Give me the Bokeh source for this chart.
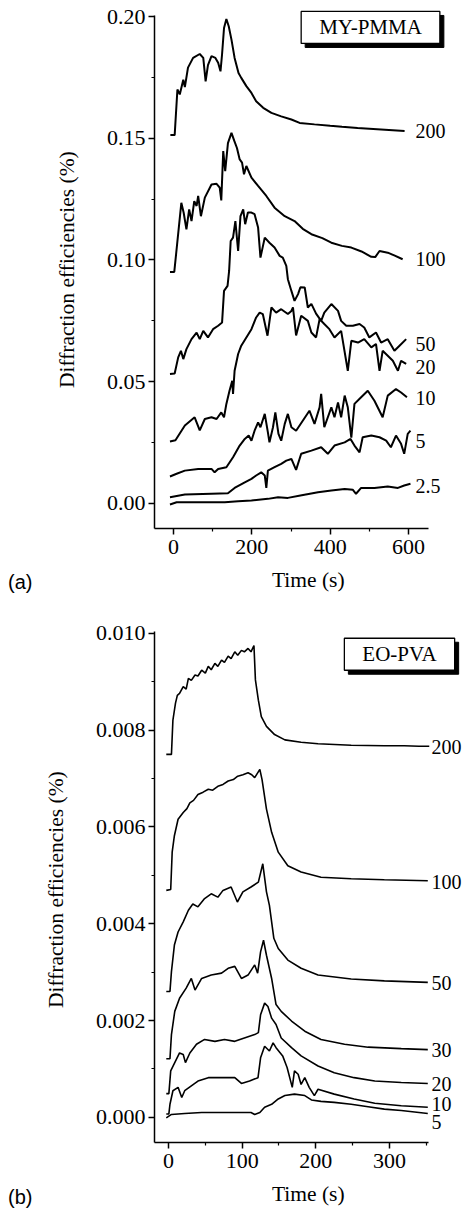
from bokeh.plotting import figure
from bokeh.models import Label, FixedTicker, NumeralTickFormatter, Range1d, Div
from bokeh.layouts import column, row
from bokeh.embed import file_html
from bokeh.resources import INLINE

# ---------------- Panel (a): MY-PMMA ----------------
a_t_200 = [-8, 3, 10, 16, 25, 29, 37, 50, 67, 76, 82, 88, 97, 107, 114, 120, 124, 129, 135, 141, 148, 156, 166, 173, 186, 199, 211, 229, 250, 275, 301, 322, 360, 400, 430, 470, 510, 550, 590]
a_v_200 = [0.1513, 0.1513, 0.170, 0.168, 0.174, 0.171, 0.179, 0.183, 0.1846, 0.183, 0.1734, 0.180, 0.1837, 0.183, 0.181, 0.1775, 0.1845, 0.1953, 0.199, 0.196, 0.1905, 0.183, 0.1768, 0.1748, 0.1714, 0.1686, 0.1652, 0.1625, 0.1604, 0.159, 0.1577, 0.1563, 0.1557, 0.1551, 0.1547, 0.1542, 0.1538, 0.1534, 0.1530]

a_t_100 = [-9, 2, 20, 26, 33, 40, 46, 53, 59, 63, 70, 80, 97, 110, 118, 122, 127, 132, 139, 148, 155, 162, 169, 175, 180, 186, 199, 216, 237, 258, 284, 309, 330, 352, 380, 403, 430, 454, 480, 505, 515, 526, 547, 565, 585]
a_v_100 = [0.0951, 0.0951, 0.1235, 0.1194, 0.1126, 0.1208, 0.116, 0.1242, 0.1222, 0.1263, 0.118, 0.1256, 0.131, 0.1313, 0.1297, 0.1245, 0.1447, 0.1365, 0.148, 0.1522, 0.149, 0.146, 0.1413, 0.140, 0.1352, 0.1386, 0.1338, 0.1304, 0.1263, 0.1215, 0.118, 0.116, 0.1128, 0.1106, 0.109, 0.1071, 0.1058, 0.1051, 0.1035, 0.1013, 0.1012, 0.1037, 0.103, 0.1018, 0.1003]

a_t_50 = [-9, 3, 12, 19, 25, 33, 46, 59, 67, 76, 88, 101, 114, 124, 129, 138, 142, 146, 152, 158, 165, 171, 178, 183, 190, 199, 207, 216, 222, 233, 245, 258, 271, 279, 288, 292, 301, 309, 318, 324, 335, 343, 352, 364, 377, 385, 403, 420, 428, 441, 458, 475, 487, 500, 517, 530, 547, 564, 577, 594]
a_v_50 = [0.0532, 0.0534, 0.060, 0.0627, 0.0593, 0.0634, 0.0675, 0.0702, 0.0675, 0.0709, 0.0682, 0.0716, 0.073, 0.0743, 0.0873, 0.0894, 0.0955, 0.1078, 0.1092, 0.116, 0.1037, 0.118, 0.1208, 0.1147, 0.1195, 0.1195, 0.1188, 0.1133, 0.101, 0.1092, 0.1071, 0.1051, 0.1017, 0.101, 0.0976, 0.0921, 0.0873, 0.0832, 0.086, 0.0888, 0.0887, 0.0805, 0.082, 0.078, 0.075, 0.0784, 0.0819, 0.0791, 0.075, 0.073, 0.073, 0.0737, 0.0723, 0.0682, 0.0702, 0.0661, 0.0675, 0.0627, 0.0648, 0.0675]

a_t_20 = [-9, 5, 29, 54, 67, 80, 97, 110, 122, 129, 135, 143, 150, 152, 156, 165, 173, 186, 199, 211, 220, 228, 240, 250, 262, 275, 292, 301, 305, 313, 326, 343, 352, 364, 373, 385, 398, 411, 428, 445, 454, 471, 487, 505, 517, 526, 534, 547, 560, 573, 581, 594]
a_v_20 = [0.0255, 0.026, 0.032, 0.0354, 0.030, 0.0347, 0.0354, 0.0347, 0.0374, 0.0354, 0.0409, 0.0463, 0.0504, 0.045, 0.0545, 0.0614, 0.0648, 0.0682, 0.0716, 0.0764, 0.0784, 0.0778, 0.0689, 0.0805, 0.0784, 0.0798, 0.0778, 0.0791, 0.0805, 0.0690, 0.0771, 0.075, 0.0702, 0.0682, 0.0757, 0.0737, 0.0716, 0.0682, 0.0709, 0.0545, 0.0668, 0.0661, 0.0675, 0.0641, 0.0655, 0.0545, 0.0627, 0.0607, 0.0586, 0.0545, 0.0586, 0.0573]

a_t_10 = [-9, 8, 29, 63, 97, 105, 114, 135, 152, 169, 182, 192, 199, 207, 216, 222, 233, 241, 245, 254, 260, 268, 275, 284, 292, 301, 313, 330, 347, 360, 373, 377, 385, 403, 411, 420, 428, 437, 445, 454, 462, 479, 496, 513, 534, 547, 568, 581, 596]
a_v_10 = [0.0111, 0.0122, 0.0135, 0.0142, 0.0142, 0.0128, 0.0142, 0.0149, 0.019, 0.0238, 0.0265, 0.0279, 0.0258, 0.0299, 0.0333, 0.0313, 0.0368, 0.0292, 0.0251, 0.0313, 0.0374, 0.0286, 0.0258, 0.0327, 0.0368, 0.0313, 0.0299, 0.034, 0.0381, 0.0327, 0.0395, 0.045, 0.0313, 0.0395, 0.0354, 0.0415, 0.0354, 0.0443, 0.0395, 0.027, 0.0409, 0.0436, 0.0463, 0.0422, 0.0354, 0.0443, 0.047, 0.0456, 0.0436]

a_t_5 = [-9, 29, 97, 139, 156, 182, 199, 211, 224, 233, 237, 241, 258, 275, 288, 301, 313, 326, 352, 377, 394, 411, 437, 452, 462, 475, 483, 505, 526, 543, 555, 568, 581, 589, 598, 605]
a_v_5 = [0.0026, 0.0037, 0.004, 0.0042, 0.0064, 0.0087, 0.0101, 0.0115, 0.0128, 0.0115, 0.0064, 0.0135, 0.0149, 0.0163, 0.0176, 0.0183, 0.0138, 0.0204, 0.0217, 0.0231, 0.0204, 0.0238, 0.0251, 0.0265, 0.0238, 0.021, 0.0272, 0.0279, 0.0272, 0.0258, 0.0231, 0.0279, 0.0245, 0.0204, 0.0286, 0.0299]

a_t_25 = [-9, 8, 71, 131, 165, 199, 241, 267, 292, 324, 369, 403, 437, 458, 466, 479, 513, 547, 573, 589, 605]
a_v_25 = [-0.0004, 0.0005, 0.0005, 0.0005, 0.0009, 0.0012, 0.0019, 0.0026, 0.0023, 0.0033, 0.0046, 0.0053, 0.006, 0.0056, 0.004, 0.0064, 0.0064, 0.007, 0.0064, 0.0074, 0.0081]

a_names = ["200", "100", "50", "20", "10", "5", "2.5"]
a_label_y = [0.1529, 0.1005, 0.0656, 0.0562, 0.0435, 0.0258, 0.0070]
a_xticks = [0, 200, 400, 600]
a_xminor = [100, 300, 500]
a_yticks = [0.00, 0.05, 0.10, 0.15, 0.20]
a_yminor = [0.025, 0.075, 0.125, 0.175]

# ---------------- Panel (b): EO-PVA ----------------
b_t_200 = [-3, 4, 6, 9.5, 12, 15, 20, 24, 27, 31, 36, 40, 45, 50, 54, 58, 63, 67, 72, 76, 81, 85, 90, 94, 99, 103, 108, 112, 116, 118, 122, 126, 133, 144, 158, 180, 203, 248, 293, 320, 340, 354]
b_v_200 = [0.0075, 0.0075, 0.00821, 0.00856, 0.00872, 0.00876, 0.0089, 0.00885, 0.00907, 0.00903, 0.00914, 0.00912, 0.00924, 0.00918, 0.00932, 0.00925, 0.00938, 0.00932, 0.00945, 0.0094, 0.00953, 0.00948, 0.00962, 0.00955, 0.00965, 0.00962, 0.00969, 0.00962, 0.00975, 0.00904, 0.00862, 0.00828, 0.00808, 0.00791, 0.0078, 0.00775, 0.00772, 0.00769, 0.00768, 0.00768, 0.00767, 0.00767]

b_t_100 = [-3, 3, 5, 8, 13, 20, 25, 29, 34, 40, 47, 54, 60, 67, 74, 81, 88, 94, 101, 108, 113, 117, 124, 127, 133, 140, 149, 162, 180, 207, 248, 293, 352]
b_v_100 = [0.00469, 0.00471, 0.00548, 0.00582, 0.00616, 0.0063, 0.00638, 0.0065, 0.00655, 0.00667, 0.00672, 0.00678, 0.00676, 0.00684, 0.00688, 0.00695, 0.00698, 0.00705, 0.00708, 0.00712, 0.00708, 0.00702, 0.00719, 0.00698, 0.00637, 0.00589, 0.00548, 0.0052, 0.00507, 0.00496, 0.00493, 0.00491, 0.00489]

b_t_50 = [-3, 2, 4, 8, 13, 20, 27, 33, 40, 49, 58, 67, 74, 85, 93.5, 101, 112, 122, 128, 133, 137, 143, 149, 162, 180, 203, 248, 293, 352]
b_v_50 = [0.0026, 0.0026, 0.00301, 0.00356, 0.00383, 0.00404, 0.00428, 0.00441, 0.00435, 0.00452, 0.00462, 0.00455, 0.00469, 0.00476, 0.00445, 0.00466, 0.00476, 0.00486, 0.00524, 0.00466, 0.00438, 0.0037, 0.00349, 0.00325, 0.00308, 0.00294, 0.00286, 0.00282, 0.00279]

b_t_30 = [-3, 2, 4, 8.5, 15, 24, 31, 36, 45, 58, 72, 81, 90, 99, 108, 117, 121, 125, 129, 133, 140, 146, 153, 167, 185, 207, 239, 271, 316, 352]
b_v_30 = [0.00121, 0.00121, 0.00171, 0.00219, 0.00246, 0.00267, 0.00287, 0.00263, 0.00287, 0.00294, 0.00298, 0.00308, 0.00312, 0.00287, 0.00294, 0.00315, 0.00298, 0.00342, 0.00366, 0.00335, 0.00287, 0.00233, 0.00219, 0.00199, 0.00178, 0.00161, 0.00151, 0.00145, 0.00142, 0.0014]

b_t_20 = [-3, 0.5, 3, 8.5, 15, 20, 23, 29, 38, 49, 63, 76, 90, 103, 117, 122, 125, 130.5, 135, 140, 146, 153, 167, 180, 203, 225, 252, 280, 316, 352]
b_v_20 = [0.00049, 0.00049, 0.00096, 0.00113, 0.00133, 0.0013, 0.00113, 0.00133, 0.00151, 0.00161, 0.00157, 0.00161, 0.00157, 0.00164, 0.00171, 0.00175, 0.00212, 0.00236, 0.00229, 0.00205, 0.00192, 0.00164, 0.00144, 0.00127, 0.00106, 0.00092, 0.00082, 0.00075, 0.00072, 0.0007]

b_t_10 = [-3, 0.5, 2, 6, 13, 18, 22, 31, 40, 54, 72, 90, 99, 110, 121.5, 125, 130.5, 137, 142, 146, 155, 161, 168, 171, 176, 180, 185, 191, 198, 203, 225, 252, 280, 316, 352]
b_v_10 = [0.00007, 0.00007, 0.00027, 0.00055, 0.00062, 0.00041, 0.00055, 0.00065, 0.00075, 0.00082, 0.00082, 0.00082, 0.0007, 0.00075, 0.00082, 0.00123, 0.00147, 0.00137, 0.00154, 0.00144, 0.00127, 0.00103, 0.00062, 0.00096, 0.00089, 0.00068, 0.00082, 0.00062, 0.00045, 0.00058, 0.00048, 0.00038, 0.00029, 0.00024, 0.00021]

b_t_5 = [-3, 4, 22, 45, 67, 90, 112, 117, 124, 130.5, 140, 149, 158, 171, 185, 194, 207, 225, 248, 271, 293, 316, 352]
b_v_5 = [-0.00001, 0.00006, 0.00008, 0.0001, 0.0001, 0.0001, 0.0001, 0.00006, 0.0001, 0.00021, 0.00027, 0.00038, 0.00045, 0.00048, 0.00045, 0.00036, 0.00033, 0.00031, 0.00027, 0.00022, 0.00017, 0.00014, 0.00008]

b_names = ["200", "100", "50", "30", "20", "10", "5"]
b_label_y = [0.00766, 0.00487, 0.00277, 0.00140, 0.00068, 0.00027, -0.00010]
b_xticks = [0, 100, 200, 300]
b_xminor = [50, 150, 250, 350]
b_yticks = [0.000, 0.002, 0.004, 0.006, 0.008, 0.010]
b_yminor = [0.001, 0.003, 0.005, 0.007, 0.009]

panel_tags = ["(a)", "(b)"]

SERIF = "Liberation Serif"
SANS = "Liberation Sans"
SIDE_W = 40


def make_panel(xr, yr, xb, yb, frame_h, top, bottom, xt, xm, yt, ym, yfmt):
    p = figure(frame_width=313, frame_height=frame_h,
               x_range=Range1d(*xr), y_range=Range1d(*yr),
               output_backend="svg", toolbar_location=None,
               min_border_left=153 - SIDE_W, min_border_right=0,
               min_border_top=top, min_border_bottom=bottom)
    p.outline_line_color = None
    p.xgrid.visible = False
    p.ygrid.visible = False
    p.xaxis.ticker = FixedTicker(ticks=xt, minor_ticks=xm)
    p.yaxis.ticker = FixedTicker(ticks=yt, minor_ticks=ym)
    p.yaxis.formatter = NumeralTickFormatter(format=yfmt)
    p.xaxis.bounds = xb
    p.yaxis.bounds = yb
    for ax in (p.xaxis, p.yaxis):
        ax.axis_line_width = 1.5
        ax.axis_line_color = "black"
        ax.major_tick_line_width = 1.5
        ax.minor_tick_line_width = 1.2
        ax.major_tick_line_color = "black"
        ax.minor_tick_line_color = "black"
        ax.major_tick_in = 0
        ax.major_tick_out = 6
        ax.minor_tick_in = 0
        ax.minor_tick_out = 3
        ax.major_label_text_font = SERIF
        ax.major_label_text_font_size = "22px"
        ax.major_label_text_color = "black"
        ax.axis_label_text_font = SERIF
        ax.axis_label_text_font_size = "21.5px"
        ax.axis_label_text_font_style = "normal"
        ax.axis_label_text_color = "black"
    p.xaxis.major_label_standoff = 5
    p.yaxis.major_label_standoff = 3
    p.xaxis.axis_label = "Time  (s)"
    p.yaxis.axis_label = "Diffraction efficiencies  (%)"
    p.xaxis.axis_label_standoff = 11
    p.yaxis.axis_label_standoff = 25
    return p


def add_box(p, x, y, text):
    common = dict(x=x, y=y, text=text, text_align="center", text_baseline="middle",
                  text_font=SERIF, text_font_size="21px", padding=(18, 4))
    p.add_layout(Label(**common, x_offset=4, y_offset=-4, text_color="black",
                       background_fill_color="black", border_line_color="black"))
    p.add_layout(Label(**common, text_color="black", background_fill_color="white",
                       border_line_color="black", border_line_width=1.3))


# Panel a
pa = make_panel((-48.5, 750.6), (-0.01027, 0.20452), (-48.5, 651), (-0.01027, 0.2004),
                523, 5, 68, a_xticks, a_xminor, a_yticks, a_yminor, "0.00")
for t, v in [(a_t_200, a_v_200), (a_t_100, a_v_100), (a_t_50, a_v_50), (a_t_20, a_v_20),
             (a_t_10, a_v_10), (a_t_5, a_v_5), (a_t_25, a_v_25)]:
    pa.line(t, v, line_color="black", line_width=2)
for name, ly in zip(a_names, a_label_y):
    pa.add_layout(Label(x=618, y=ly, text=name, text_font=SERIF, text_font_size="20px",
                        text_baseline="middle", text_align="left", text_color="black"))
add_box(pa, 503, 0.1955, "MY-PMMA")

# Panel b
pb = make_panel((-19, 405.9), (-0.00052, 0.01004), (-19, 353), (-0.00052, 0.01004),
                511, 35, 68, b_xticks, b_xminor, b_yticks, b_yminor, "0.000")
for t, v in [(b_t_200, b_v_200), (b_t_100, b_v_100), (b_t_50, b_v_50), (b_t_30, b_v_30),
             (b_t_20, b_v_20), (b_t_10, b_v_10), (b_t_5, b_v_5)]:
    pb.line(t, v, line_color="black", line_width=1.6)
for name, ly in zip(b_names, b_label_y):
    pb.add_layout(Label(x=357, y=ly, text=name, text_font=SERIF, text_font_size="20px",
                        text_baseline="middle", text_align="left", text_color="black"))
add_box(pb, 313.6, 0.00957, "EO-PVA")

# Left strip carrying the panel tags (a) and (b), level with the x-axis titles
tag_style = ("position:relative; left:8px; font-family:'Liberation Sans'; font-size:20px;"
             " line-height:24px; height:24px; color:black; white-space:nowrap;")
tags_html = ('<div style="%s top:570px;">%s</div>' % (tag_style, panel_tags[0]) +
             '<div style="%s top:1161px;">%s</div>' % (tag_style, panel_tags[1]))
tags = Div(text=tags_html, width=SIDE_W, height=1208, margin=0)

layout = row(tags, column(pa, pb, spacing=0), spacing=0)
open("out.html", "w").write(file_html(layout, INLINE))
